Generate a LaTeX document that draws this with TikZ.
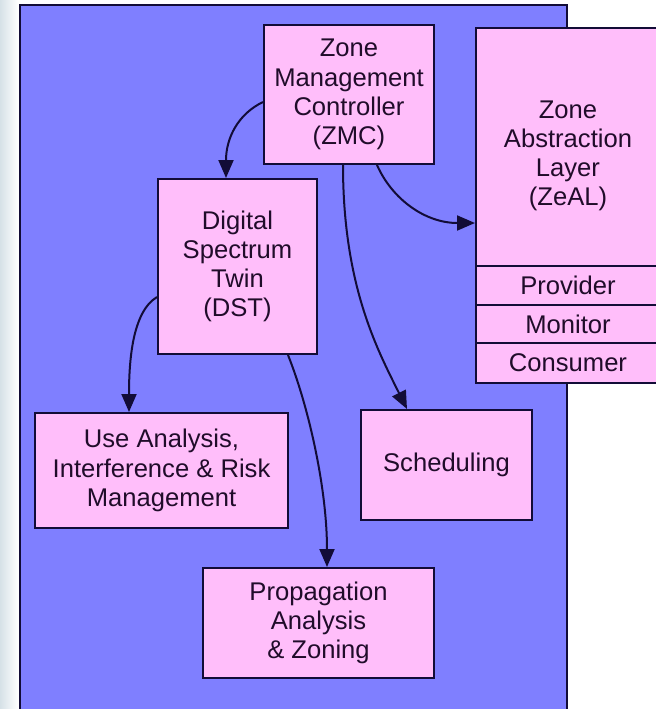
\documentclass[tikz,border=0pt]{standalone}
\usepackage{fontspec}
\setmainfont{Liberation Sans}
\usetikzlibrary{arrows.meta,calc}
\definecolor{panelblue}{RGB}{127,127,255}
\definecolor{boxpink}{RGB}{255,190,250}
\definecolor{edge}{RGB}{18,12,55}
\definecolor{ink}{RGB}{32,12,42}
\definecolor{strip}{RGB}{214,225,231}

\begin{document}
\begin{tikzpicture}[x=0.5pt,y=-0.5pt,
  boxtext/.style={text=ink, align=center, font=\fontsize{12.8}{14.6}\selectfont},
  box/.style={draw=edge, line width=1pt, fill=boxpink, boxtext, inner sep=0pt},
  link/.style={draw=edge, line width=1pt, -{Triangle[length=9pt,width=7.5pt]}}]

  % canvas
  \useasboundingbox (0,0) rectangle (656,709);
  \clip (0,0) rectangle (656,709);
  \fill[white] (0,0) rectangle (656,709);
  \shade[left color=strip, right color=white] (0,0) rectangle (18,709);

  % outer panel
  \draw[edge, line width=1pt, fill=panelblue] (20,5) rectangle (567,730);

  % components
  \node[box, minimum width=85pt, minimum height=69.5pt] (zmc) at (349,94.5)
    {Zone\\Management\\Controller\\(ZMC)};
  \node[box, minimum width=92pt, minimum height=119pt,
        label={[boxtext, yshift=-4.5pt]center:Zone\\Abstraction\\Layer\\(ZeAL)}] (zeal) at (568,147) {};
  \node[box, minimum width=92pt, minimum height=19.5pt] (provider) at (568,285.5) {Provider};
  \node[box, minimum width=92pt, minimum height=19pt] (monitor) at (568,324) {Monitor};
  \node[box, minimum width=92pt, minimum height=20pt] (consumer) at (568,363) {Consumer};
  \node[box, minimum width=79.5pt, minimum height=87.5pt] (dst) at (237.5,266.5)
    {Digital\\Spectrum\\Twin\\(DST)};
  \node[box, minimum width=126.5pt, minimum height=57.5pt] (use) at (161.5,470.5)
    {Use Analysis,\\Interference \& Risk\\Management};
  \node[box, minimum width=85.5pt, minimum height=55pt] (sched) at (446.5,465)
    {Scheduling};
  \node[box, minimum width=115.5pt, minimum height=55pt] (prop) at (318.5,623)
    {Propagation\\Analysis\\\& Zoning};

  % connectors
  \draw[link] ($(zmc.west)+(0,7.5)$) .. controls +(-25,12) and +(0,-40) .. ($(dst.north)+(-11.5,0)$);
  \draw[link] ($(zmc.south)+(28,0)$) .. controls +(15,34) and +(-50,0) .. ($(zeal.south west)+(0,-44)$);
  \draw[link] ($(zmc.south)+(-6,0)$) .. controls +(0,120) and +(-30,-60) .. ($(sched.north)+(-39.5,0)$);
  \draw[link] ($(dst.west)+(0,30.5)$) .. controls +(-25,15) and +(0,-50) .. ($(use.north)+(-32.5,0)$);
  \draw[link] ($(dst.south)+(50.5,0)$) .. controls +(20,50) and +(0,-80) .. ($(prop.north)+(8.5,0)$);
\end{tikzpicture}
\end{document}
